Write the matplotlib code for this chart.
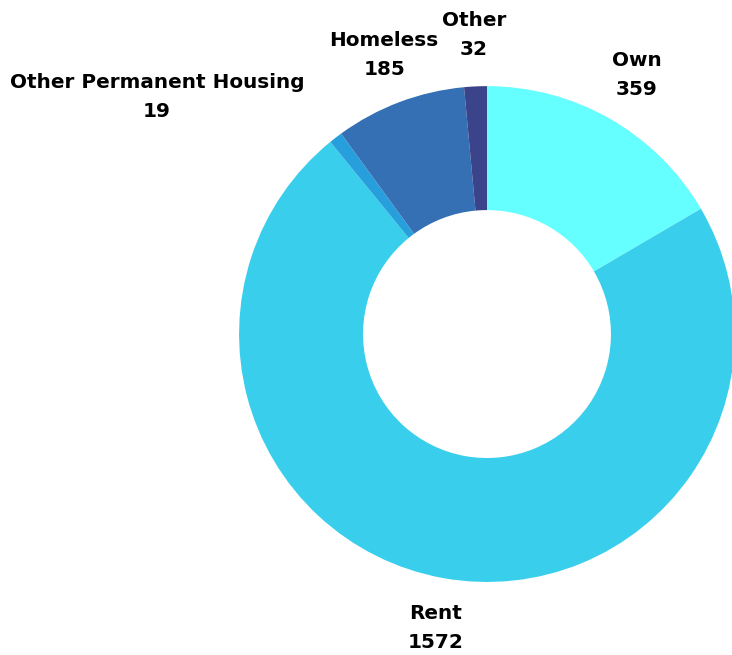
import matplotlib
matplotlib.use("Agg")
import matplotlib.pyplot as plt

# data
categories = ["Own", "Rent", "Other Permanent Housing", "Homeless", "Other"]
counts = [359, 1572, 19, 185, 32]
colors = ["#66FFFF", "#38CEEC", "#279FDC", "#3570B4", "#3B438A"]

# label positions (data coords, radius 1 = outer edge)
label_pos = [(0.605, 1.044), (-0.206, -1.185), (-1.331, 0.956),
             (-0.415, 1.125), (-0.052, 1.206)]

fig = plt.figure(figsize=(7.32, 6.55), dpi=100)
ax = fig.add_axes([0.3265, 0.1115, 0.6776, 0.757])

ax.pie(counts, colors=colors, startangle=90, counterclock=False,
       radius=1, wedgeprops=dict(width=0.5, linewidth=0))

for name, val, (x, y) in zip(categories, counts, label_pos):
    ax.text(x, y, f"{name}\n{val}", ha="center", va="center",
            fontsize=14.4, fontweight="bold", linespacing=1.7,
            family="DejaVu Sans", color="black")

ax.set_xlim(-1, 1)
ax.set_ylim(-1, 1)
ax.set_aspect("equal")
ax.axis("off")

fig.savefig("out.png", dpi=100)
